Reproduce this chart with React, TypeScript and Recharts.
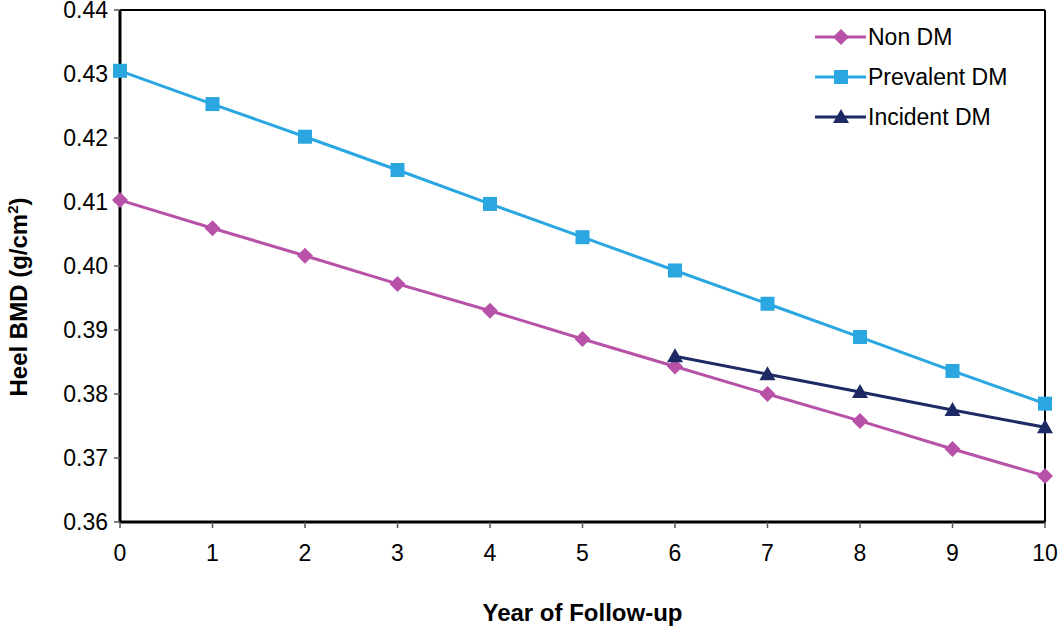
import React from 'react';
import { LineChart, Line, XAxis, YAxis, ReferenceLine } from 'recharts';

const years = [0, 1, 2, 3, 4, 5, 6, 7, 8, 9, 10];
const nonDM = [0.4103, 0.4059, 0.4016, 0.3972, 0.393, 0.3886, 0.3843, 0.38, 0.3758, 0.3714, 0.3672];
const prevalentDM = [0.4305, 0.4253, 0.4202, 0.415, 0.4097, 0.4045, 0.3993, 0.3941, 0.3889, 0.3836, 0.3785];
const incidentDM = [null, null, null, null, null, null, 0.3859, 0.3831, 0.3803, 0.3775, 0.3748];
const yTicks = [0.36, 0.37, 0.38, 0.39, 0.4, 0.41, 0.42, 0.43, 0.44];

const data = years.map((year, i) => ({
  year,
  nonDM: nonDM[i],
  prevalentDM: prevalentDM[i],
  incidentDM: incidentDM[i],
}));

const COLORS = { nonDM: '#b752a8', prevalentDM: '#2aa7e0', incidentDM: '#1d2a63' };
const FONT = 'Liberation Sans, Arial, sans-serif';

function Marker({ kind, cx, cy, fill }: { kind: string; cx: number; cy: number; fill: string }) {
  if (cx == null || cy == null) return null;
  if (kind === 'diamond') {
    const r = 8;
    return <polygon points={`${cx},${cy - r} ${cx + r},${cy} ${cx},${cy + r} ${cx - r},${cy}`} fill={fill} />;
  }
  if (kind === 'square') {
    const s = 7;
    return <rect x={cx - s} y={cy - s} width={s * 2} height={s * 2} fill={fill} />;
  }
  const r = 8;
  return <polygon points={`${cx},${cy - r} ${cx + r},${cy + r * 0.75} ${cx - r},${cy + r * 0.75}`} fill={fill} />;
}

const dotFor = (kind: string, fill: string) => (props: any) => {
  const { cx, cy, index, value } = props;
  if (value == null) return <g key={index} />;
  return <Marker key={index} kind={kind} cx={cx} cy={cy} fill={fill} />;
};

const legendItems = [
  { label: 'Non DM', color: COLORS.nonDM, kind: 'diamond' },
  { label: 'Prevalent DM', color: COLORS.prevalentDM, kind: 'square' },
  { label: 'Incident DM', color: COLORS.incidentDM, kind: 'triangle' },
];

function ChartLegend() {
  return (
    <svg width={240} height={130} style={{ position: 'absolute', left: 812, top: 17 }}>
      {legendItems.map((it, i) => {
        const y = 20 + i * 40;
        return (
          <g key={it.label}>
            <line x1={3} x2={54} y1={y} y2={y} stroke={it.color} strokeWidth={3} />
            <Marker kind={it.kind} cx={29} cy={y} fill={it.color} />
            <text x={56} y={y + 8} fontSize={23} fontFamily={FONT} fill="#000">
              {it.label}
            </text>
          </g>
        );
      })}
    </svg>
  );
}

const XTick = (props: any) => {
  const { x, y, payload } = props;
  return (
    <text x={x} y={y + 31} textAnchor="middle" fontSize={23} fontFamily={FONT} fill="#000">
      {payload.value}
    </text>
  );
};

const YTick = (props: any) => {
  const { x, y, payload } = props;
  return (
    <text x={x - 4} y={y + 8} textAnchor="end" fontSize={23} fontFamily={FONT} fill="#000">
      {Number(payload.value).toFixed(2)}
    </text>
  );
};

const YLabel = () => (
  <text
    transform="translate(27, 297) rotate(-90)"
    textAnchor="middle"
    fontSize={24}
    fontWeight="bold"
    fontFamily={FONT}
    fill="#000"
  >
    Heel BMD (g/cm<tspan fontSize={15} dy={-9}>2</tspan><tspan dy={9}>)</tspan>
  </text>
);

export default function App() {
  return (
    <div style={{ position: 'absolute', left: 0, top: 0, width: 1058, height: 627, background: '#fff' }}>
      <LineChart width={1058} height={627} data={data} margin={{ top: 10, right: 13, bottom: 0, left: 0 }}>
        <XAxis
          dataKey="year"
          type="number"
          domain={[0, 10]}
          ticks={years}
          height={105}
          axisLine={{ stroke: '#000', strokeWidth: 3 }}
          tickLine={{ stroke: '#555', strokeWidth: 1.5 }}
          tickSize={6}
          tick={<XTick />}
          label={{ value: 'Year of Follow-up', position: 'insideBottom', offset: 6, fontSize: 24, fontWeight: 'bold', fill: '#000', fontFamily: FONT }}
        />
        <YAxis
          type="number"
          domain={[0.36, 0.44]}
          ticks={yTicks}
          width={120}
          axisLine={{ stroke: '#000', strokeWidth: 3 }}
          tickLine={{ stroke: '#555', strokeWidth: 1.5 }}
          tickSize={6}
          tick={<YTick />}
          label={<YLabel />}
        />
        <ReferenceLine y={0.44} stroke="#000" strokeWidth={2} />
        <ReferenceLine x={10} stroke="#000" strokeWidth={2} />
        <Line dataKey="nonDM" stroke={COLORS.nonDM} strokeWidth={3} dot={dotFor('diamond', COLORS.nonDM)} isAnimationActive={false} />
        <Line dataKey="prevalentDM" stroke={COLORS.prevalentDM} strokeWidth={3} dot={dotFor('square', COLORS.prevalentDM)} isAnimationActive={false} />
        <Line dataKey="incidentDM" stroke={COLORS.incidentDM} strokeWidth={3} dot={dotFor('triangle', COLORS.incidentDM)} isAnimationActive={false} />
      </LineChart>
      <ChartLegend />
    </div>
  );
}
